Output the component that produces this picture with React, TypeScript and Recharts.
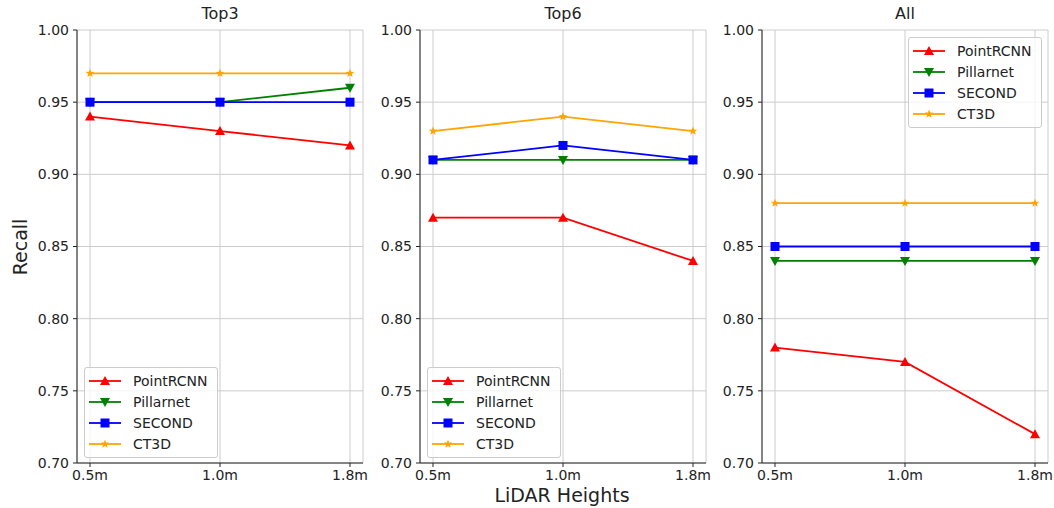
import React from 'react'
import {
  LineChart,
  Line,
  XAxis,
  YAxis,
  CartesianGrid,
  Legend,
} from 'recharts'

// x categories
const heights = ['0.5m', '1.0m', '1.8m']
const yTicks = [0.7, 0.75, 0.8, 0.85, 0.9, 0.95, 1.0]

// Top3
const top3PointRCNN = [0.94, 0.93, 0.92]
const top3Pillarnet = [0.95, 0.95, 0.96]
const top3Second = [0.95, 0.95, 0.95]
const top3CT3D = [0.97, 0.97, 0.97]

// Top6
const top6PointRCNN = [0.87, 0.87, 0.84]
const top6Pillarnet = [0.91, 0.91, 0.91]
const top6Second = [0.91, 0.92, 0.91]
const top6CT3D = [0.93, 0.94, 0.93]

// All
const allPointRCNN = [0.78, 0.77, 0.72]
const allPillarnet = [0.84, 0.84, 0.84]
const allSecond = [0.85, 0.85, 0.85]
const allCT3D = [0.88, 0.88, 0.88]

const FONT = '"DejaVu Sans", sans-serif'
const INK = '#222'

type Shape = 'up' | 'down' | 'square' | 'star'

const series: { key: string; color: string; shape: Shape }[] = [
  { key: 'PointRCNN', color: '#ff0000', shape: 'up' },
  { key: 'Pillarnet', color: '#008000', shape: 'down' },
  { key: 'SECOND', color: '#0000ff', shape: 'square' },
  { key: 'CT3D', color: '#ffa500', shape: 'star' },
]

const buildRows = (a: number[], b: number[], c: number[], d: number[]) =>
  heights.map((h, i) => ({
    height: h,
    PointRCNN: a[i],
    Pillarnet: b[i],
    SECOND: c[i],
    CT3D: d[i],
  }))

function Marker({ cx, cy, shape, color }: { cx: number; cy: number; shape: Shape; color: string }) {
  if (cx == null || cy == null) return null
  if (shape === 'up') {
    return <polygon points={`${cx},${cy - 5} ${cx - 5},${cy + 4} ${cx + 5},${cy + 4}`} fill={color} />
  }
  if (shape === 'down') {
    return <polygon points={`${cx - 5},${cy - 4} ${cx + 5},${cy - 4} ${cx},${cy + 5}`} fill={color} />
  }
  if (shape === 'square') {
    return <rect x={cx - 4.5} y={cy - 4.5} width={9} height={9} fill={color} />
  }
  const pts: string[] = []
  for (let i = 0; i < 10; i++) {
    const r = i % 2 === 0 ? 4.5 : 1.9
    const a = -Math.PI / 2 + (i * Math.PI) / 5
    pts.push(`${cx + r * Math.cos(a)},${cy + r * Math.sin(a)}`)
  }
  return <polygon points={pts.join(' ')} fill={color} />
}

function LegendBox({ payload }: any) {
  // keep plotting order, recharts sorts by name
  const items = series.filter((s) => (payload || []).some((p: any) => p.value === s.key))
  return (
    <div
      style={{
        border: '1px solid #cccccc',
        borderRadius: 3,
        background: 'rgba(255,255,255,0.8)',
        padding: '2px 0 3px 0',
        fontFamily: FONT,
        fontSize: 14,
        color: INK,
      }}
    >
      {items.map((s) => (
        <div key={s.key} style={{ display: 'flex', alignItems: 'center', height: 21 }}>
          <svg width={48} height={14} style={{ flex: 'none' }}>
            <line x1={4} x2={36} y1={7} y2={7} stroke={s.color} strokeWidth={1.8} />
            <Marker cx={20} cy={7} shape={s.shape} color={s.color} />
          </svg>
          <span>{s.key}</span>
        </div>
      ))}
    </div>
  )
}

const panels = [
  {
    title: 'Top3',
    data: buildRows(top3PointRCNN, top3Pillarnet, top3Second, top3CT3D),
    left: 0,
    width: 380,
    mLeft: 32,
    mRight: 17,
    legend: { left: 84, top: 367 },
  },
  {
    title: 'Top6',
    data: buildRows(top6PointRCNN, top6Pillarnet, top6Second, top6CT3D),
    left: 370,
    width: 350,
    mLeft: 5,
    mRight: 14,
    legend: { left: 427 - 370, top: 367 },
  },
  {
    title: 'All',
    data: buildRows(allPointRCNN, allPillarnet, allSecond, allCT3D),
    left: 712,
    width: 342,
    mLeft: 5,
    mRight: 6,
    legend: { left: 908 - 712, top: 37 },
  },
]

function Panel({ p }: { p: (typeof panels)[number] }) {
  const plotLeft = p.mLeft + 45
  const plotW = p.width - plotLeft - p.mRight
  return (
    <div style={{ position: 'absolute', left: p.left, top: 0, width: p.width, height: 508 }}>
      <div
        style={{
          position: 'absolute',
          left: plotLeft,
          width: plotW,
          top: 4,
          textAlign: 'center',
          fontFamily: FONT,
          fontSize: 16,
          color: INK,
        }}
      >
        {p.title}
      </div>
      <LineChart
        width={p.width}
        height={508}
        data={p.data}
        margin={{ top: 30, right: p.mRight, bottom: 15, left: p.mLeft }}
      >
        <CartesianGrid stroke="#cccccc" strokeWidth={1} />
        <XAxis
          dataKey="height"
          padding={{ left: 13, right: 13 }}
          height={30}
          tickSize={4}
          tickMargin={3}
          stroke={INK}
          tick={{ fill: INK, fontSize: 14, fontFamily: FONT }}
        />
        <XAxis xAxisId="top" orientation="top" dataKey="height" height={0} tick={false} tickLine={false} stroke={INK} />
        <YAxis
          type="number"
          domain={[0.7, 1.0]}
          ticks={yTicks}
          width={45}
          tickSize={4}
          tickMargin={4}
          stroke={INK}
          tickFormatter={(v: number) => v.toFixed(2)}
          tick={{ fill: INK, fontSize: 14, fontFamily: FONT }}
        />
        <YAxis yAxisId="right" orientation="right" domain={[0.7, 1.0]} width={0} tick={false} tickLine={false} stroke={INK} />
        <Legend
          layout="vertical"
          align="center"
          verticalAlign="middle"
          content={<LegendBox />}
          wrapperStyle={{ left: p.legend.left, top: p.legend.top, width: 134 }}
        />
        {series.map((s) => (
          <Line
            key={s.key}
            dataKey={s.key}
            name={s.key}
            stroke={s.color}
            strokeWidth={1.8}
            isAnimationActive={false}
            dot={(d: any) => <Marker key={`${s.key}-${d.index}`} cx={d.cx} cy={d.cy} shape={s.shape} color={s.color} />}
            activeDot={false}
          />
        ))}
      </LineChart>
    </div>
  )
}

export default function App() {
  return (
    <div style={{ position: 'absolute', left: 0, top: 0, width: 1054, height: 508, background: '#fff' }}>
      {panels.map((p) => (
        <Panel key={p.title} p={p} />
      ))}
      <div
        style={{
          position: 'absolute',
          left: 20,
          top: 247,
          transform: 'translate(-50%, -50%) rotate(-90deg)',
          fontFamily: FONT,
          fontSize: 19,
          color: INK,
          whiteSpace: 'nowrap',
        }}
      >
        Recall
      </div>
      <div
        style={{
          position: 'absolute',
          left: 562,
          top: 484,
          transform: 'translateX(-50%)',
          fontFamily: FONT,
          fontSize: 19,
          color: INK,
          whiteSpace: 'nowrap',
        }}
      >
        LiDAR Heights
      </div>
    </div>
  )
}
